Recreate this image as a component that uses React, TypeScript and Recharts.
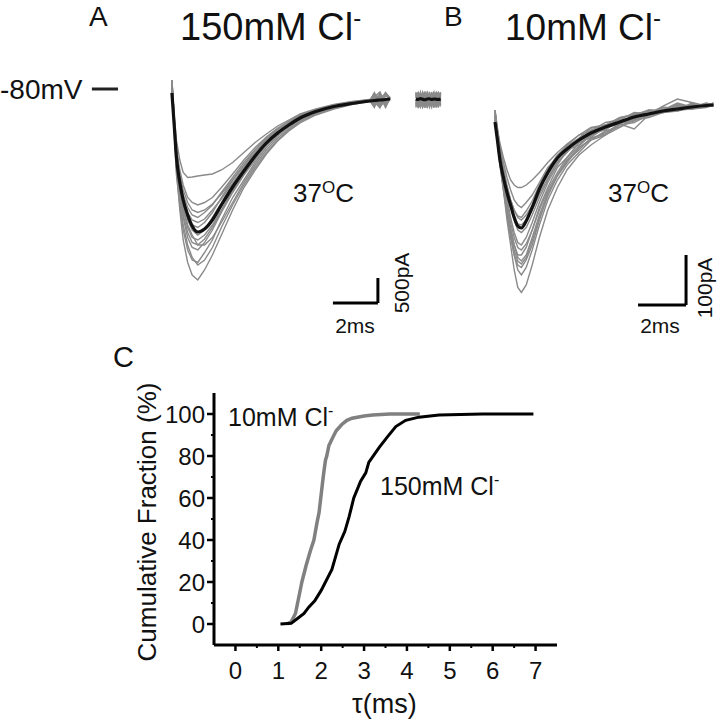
import React from 'react';
import { LineChart, Line, XAxis, YAxis, ReferenceLine } from 'recharts';

const FONT = '"Liberation Sans", Arial, Helvetica, sans-serif';

// ---- panel A: 150 mM Cl-, time (ms) vs current (pA)
const timeA = [0, 0.1, 0.2, 0.35, 0.5, 0.7, 0.9, 1.15, 1.45, 1.8, 2.2, 2.7, 3.2, 3.7, 4.2, 4.7, 5.2, 5.7, 6.4, 7.2, 8.0, 8.8, 9.0, 9.25, 9.5, 9.7];
const meanA = [40, -600, -1250, -1750, -2100, -2400, -2620, -2740, -2680, -2500, -2200, -1840, -1520, -1220, -960, -760, -600, -460, -330, -230, -170, -120, -110, -100, -90, -80];
const tracesA = [
  [300, -500, -1500, -2300, -2900, -3350, -3600, -3700, -3500, -3200, -2800, -2300, -1850, -1500, -1180, -920, -720, -560, -400, -280, -190, -130, 10, -220, 40, -90],
  [200, -700, -1600, -2200, -2700, -3100, -3300, -3350, -3150, -2900, -2500, -2050, -1700, -1350, -1050, -820, -650, -500, -350, -240, -170, -110, -250, 20, -230, -70],
  [150, -600, -1400, -2000, -2450, -2850, -3050, -3100, -2950, -2700, -2350, -1950, -1600, -1300, -1000, -800, -620, -480, -340, -230, -160, -120, -20, -160, 0, -60],
  [250, -550, -1300, -1900, -2300, -2650, -2850, -2900, -2800, -2600, -2300, -1900, -1550, -1250, -980, -760, -600, -450, -320, -220, -150, -100, -190, -30, -200, -80],
  [100, -650, -1300, -1800, -2150, -2450, -2600, -2650, -2550, -2350, -2050, -1700, -1400, -1100, -880, -700, -560, -420, -300, -200, -140, -110, 30, -120, 50, -60],
  [200, -500, -1150, -1650, -2000, -2250, -2400, -2450, -2350, -2200, -1950, -1650, -1350, -1100, -850, -680, -540, -420, -300, -200, -150, -90, -150, -240, -110, -70],
  [300, -450, -1050, -1500, -1800, -2050, -2150, -2200, -2150, -2050, -1850, -1580, -1300, -1050, -840, -660, -520, -400, -290, -210, -140, -100, -40, 60, -170, -60],
  [250, -400, -900, -1300, -1550, -1650, -1640, -1620, -1600, -1580, -1500, -1350, -1150, -950, -780, -620, -500, -380, -280, -190, -130, -90, -200, -80, 30, -50],
  [150, -600, -1350, -1850, -2250, -2600, -2800, -3000, -3000, -2850, -2550, -2150, -1750, -1400, -1100, -860, -680, -520, -370, -250, -170, -120, 50, -190, -20, -70],
  [200, -550, -1250, -1750, -2150, -2500, -2700, -2800, -2700, -2450, -2150, -1800, -1500, -1200, -950, -750, -590, -450, -320, -230, -150, -110, -230, -10, -250, -60],
  [250, -600, -1450, -2100, -2600, -3000, -3250, -3400, -3300, -3050, -2650, -2200, -1800, -1450, -1150, -900, -700, -540, -380, -260, -180, -120, -60, -230, 10, -80],
  [150, -500, -1200, -1700, -2050, -2350, -2500, -2550, -2480, -2300, -2080, -1760, -1460, -1180, -920, -740, -580, -440, -310, -210, -140, -100, -170, 40, -140, -60],
  [200, -600, -1350, -1950, -2400, -2750, -2950, -3000, -2880, -2650, -2320, -1920, -1580, -1260, -1000, -780, -610, -470, -330, -240, -160, -110, 20, -60, -210, -70],
  [300, -450, -1100, -1600, -1900, -2150, -2300, -2350, -2300, -2180, -1980, -1700, -1420, -1150, -900, -720, -570, -430, -310, -220, -150, -100, -120, -260, 20, -60],
];
// piece of baseline after the break
const tailTimeA = [10.85, 10.95, 11.05, 11.15, 11.25, 11.35, 11.45, 11.55, 11.65, 11.75, 11.85, 11.95];
const tailMeanA = [-80, -90, -70, -85, -95, -80, -75, -90, -80, -85, -90, -80];
const tailTracesA = [
  [60, -240, 40, -200, 20, -260, 0, -150, 50, -230, 30, -90],
  [-250, 30, -220, 50, -240, 10, -200, 60, -180, -20, -250, 40],
  [0, -150, -10, -180, 40, -140, -60, -230, -30, 50, -160, -40],
  [-180, -20, -230, 0, -190, -40, -210, 30, -250, -70, 10, -200],
  [20, -120, 60, -100, -20, -160, 30, -60, -200, -120, 60, -150],
  [-100, -260, -60, -230, -120, 20, -150, -250, 20, -190, -80, 0],
  [-200, 60, -140, 30, -260, -20, -100, -10, -120, 40, -210, -120],
  [40, -60, -190, 60, -40, -220, 50, -180, -100, -250, -30, 60],
  [-140, -200, 20, -160, 70, -100, -240, -40, 60, -150, -120, -230],
  [-60, 50, -100, -250, -150, 40, -120, 20, -220, -10, 50, -100],
  [-230, -100, 30, -60, -210, -180, 60, -120, -60, 20, -190, -10],
  [30, -180, -250, -130, 10, -70, -190, 40, -140, -200, -60, -170],
  [-120, 10, -60, 40, -90, -230, -30, -210, 30, -90, -240, 20],
  [-30, -210, -150, -220, -60, 50, -160, -90, -250, 60, -110, -60],
];
const holdA = { t0: -3.56, t1: -2.4, level: 120 };
const scaleA = { t: 7.16, i: -4160, dt: 2, di: 500 };

// ---- panel B: 10 mM Cl-
const timeB = [0, 0.1, 0.2, 0.35, 0.5, 0.65, 0.8, 0.95, 1.1, 1.3, 1.55, 1.85, 2.2, 2.6, 3.0, 3.5, 4.0, 4.6, 5.2, 5.8, 6.4, 7.0, 7.6, 8.2, 8.8, 9.1];
const meanB = [-34, -70, -108, -145, -175, -200, -225, -242, -246, -232, -205, -168, -135, -106, -88, -70, -56, -44, -34, -24, -18, -12, -8, -4, -1, 0];
const tracesB = [
  [-20, -60, -110, -170, -230, -280, -330, -365, -375, -360, -320, -265, -210, -165, -130, -100, -80, -60, -45, -30, -25, -15, -10, -8, -5, 0],
  [-10, -50, -100, -160, -210, -260, -300, -330, -340, -325, -290, -240, -190, -150, -120, -95, -70, -60, -40, -35, -20, -15, -12, -5, 0, 2],
  [-30, -70, -120, -170, -215, -250, -280, -300, -300, -285, -250, -205, -165, -125, -105, -75, -65, -45, -38, -48, -20, -8, -12, 0, -4, 5],
  [-15, -55, -95, -140, -185, -225, -255, -275, -280, -265, -235, -195, -155, -120, -90, -80, -55, -50, -30, -28, -12, -15, 0, -6, 2, -2],
  [-25, -60, -100, -140, -175, -205, -230, -250, -255, -245, -220, -185, -150, -115, -95, -70, -62, -40, -35, -20, -22, -5, -10, 4, -3, 0],
  [-20, -50, -85, -125, -160, -190, -210, -225, -230, -220, -200, -170, -140, -110, -85, -72, -50, -45, -28, -30, -10, -12, 2, -5, 4, 0],
  [-10, -45, -80, -115, -145, -170, -190, -200, -205, -195, -180, -155, -125, -105, -80, -60, -52, -35, -30, -15, -18, -2, 12, 5, -2, 3],
  [-20, -50, -75, -105, -130, -150, -160, -165, -165, -160, -150, -135, -115, -95, -78, -60, -45, -40, -25, -20, -10, -12, 0, -4, 3, 0],
  [-25, -65, -115, -165, -220, -265, -300, -320, -325, -310, -280, -230, -180, -140, -110, -85, -68, -55, -38, -25, -20, -10, -8, -2, -4, 2],
  [-15, -55, -100, -150, -195, -235, -265, -285, -290, -278, -250, -210, -170, -135, -105, -82, -60, -48, -32, -26, -14, -10, -4, -6, 0, -1],
  [-20, -60, -105, -160, -205, -245, -280, -305, -312, -300, -265, -220, -175, -140, -112, -90, -66, -58, -36, -32, -16, -14, -2, -8, 2, -3],
  [-30, -65, -100, -135, -165, -190, -210, -222, -225, -212, -192, -160, -128, -100, -82, -66, -46, -44, -26, -18, -16, -4, -8, 2, -2, 1],
  [-10, -55, -110, -165, -215, -258, -290, -312, -318, -305, -272, -226, -182, -142, -115, -86, -70, -52, -44, -26, -22, -12, -6, -8, -2, 0],
  [-25, -60, -95, -135, -170, -200, -222, -238, -240, -230, -210, -178, -146, -114, -92, -74, -56, -40, -36, -18, -14, -10, 4, -4, 0, 2],
];
const scaleB = { t: 5.96, i: -400, dt: 2, di: 100 };

// ---- panel C: cumulative distributions of tau (ms)
const tau10 = [1.2, 1.3, 1.4, 1.5, 1.55, 1.65, 1.75, 1.83, 1.9, 1.95, 1.99, 2.03, 2.06, 2.1, 2.13, 2.18, 2.25, 2.35, 2.48, 2.6, 2.72, 3.0, 3.2, 3.6, 4.3];
const frac10 = [0, 1, 5, 15, 20, 28, 35, 40, 48, 53, 60, 67, 72, 78, 80, 85, 88, 92, 95, 97, 98, 99, 99.5, 100, 100];
const tau150 = [1.05, 1.3, 1.47, 1.6, 1.71, 1.85, 2.0, 2.25, 2.42, 2.55, 2.65, 2.76, 2.92, 3.04, 3.11, 3.35, 3.54, 3.74, 3.97, 4.28, 4.75, 5.76, 6.95];
const frac150 = [0, 0.3, 3, 5, 8, 11, 16, 26, 38, 44, 51, 60, 68, 72, 77, 84, 89, 94, 97, 98.5, 99.5, 100, 100];
const yTicksC = [0, 10, 20, 30, 40, 50, 60, 70, 80, 90, 100];
const xTicksC = [0, 0.5, 1, 1.5, 2, 2.5, 3, 3.5, 4, 4.5, 5, 5.5, 6, 6.5, 7];

const buildRows = (time: number[], mean: number[], traces: number[][]) =>
  time.map((t, i) => {
    const row: Record<string, number | null> = { t, mean: mean[i] };
    traces.forEach((tr, k) => (row['g' + k] = tr[i]));
    return row;
  });

const gapRow = (t: number, n: number) => {
  const row: Record<string, number | null> = { t, mean: null };
  for (let k = 0; k < n; k++) row['g' + k] = null;
  return row;
};

const rowsA = [
  ...buildRows(timeA, meanA, tracesA),
  gapRow(10.3, tracesA.length),
  ...buildRows(tailTimeA, tailMeanA, tailTracesA),
];
const rowsB = buildRows(timeB, meanB, tracesB);
const data10 = tau10.map((tau, i) => ({ tau, frac: frac10[i] }));
const data150 = tau150.map((tau, i) => ({ tau, frac: frac150[i] }));

const GRAY = '#8a8a8a';

function Txt({ x, base, size, children, anchor = 'start', lh = 1 }: any) {
  const tx = anchor === 'middle' ? 'translateX(-50%)' : anchor === 'end' ? 'translateX(-100%)' : '';
  return (
    <div
      style={{
        position: 'absolute',
        left: x,
        top: base - (lh / 2 + 0.3465) * size,
        fontSize: size,
        lineHeight: lh,
        whiteSpace: 'nowrap',
        transform: tx,
      }}
    >
      {children}
    </div>
  );
}

function VTxt({ cx, cy, size, children }: any) {
  return (
    <div
      style={{
        position: 'absolute',
        left: cx,
        top: cy,
        fontSize: size,
        lineHeight: 1,
        whiteSpace: 'nowrap',
        transform: 'translate(-50%, -50%) rotate(-90deg)',
      }}
    >
      {children}
    </div>
  );
}

const Sup = ({ children, size, lift }: any) => (
  <span style={{ fontSize: size, position: 'relative', top: -lift }}>{children}</span>
);

function TraceChart({ rows, n, left, top, width, height, xDomain, yDomain, children }: any) {
  return (
    <div style={{ position: 'absolute', left, top }}>
      <LineChart width={width} height={height} data={rows} margin={{ top: 0, right: 0, bottom: 0, left: 0 }}>
        <XAxis type="number" dataKey="t" domain={xDomain} hide allowDataOverflow />
        <YAxis type="number" domain={yDomain} hide allowDataOverflow />
        {Array.from({ length: n }, (_, k) => (
          <Line
            key={k}
            dataKey={'g' + k}
            type="linear"
            stroke={GRAY}
            strokeWidth={1.4}
            dot={false}
            isAnimationActive={false}
          />
        ))}
        <Line dataKey="mean" type="monotone" stroke="#111" strokeWidth={3.2} dot={false} isAnimationActive={false} />
        {children}
      </LineChart>
    </div>
  );
}

const YTick = ({ x, y, payload }: any) => {
  const v = payload.value;
  const major = v % 20 === 0;
  return (
    <g>
      <line x1={x - (major ? 7 : 3)} x2={x} y1={y} y2={y} stroke="#000" strokeWidth={major ? 2.5 : 2} />
      {major && (
        <text x={x - 9} y={y} textAnchor="end" dominantBaseline="central" fontSize={24} fontFamily={FONT} fill="#111">
          {v}
        </text>
      )}
    </g>
  );
};

const XTick = ({ x, y, payload }: any) => {
  const v = payload.value;
  const major = Number.isInteger(v);
  return (
    <g>
      <line x1={x} x2={x} y1={y} y2={y + (major ? 6 : 3)} stroke="#000" strokeWidth={major ? 2.5 : 2} />
      {major && (
        <text x={x} y={y + 25} textAnchor="middle" dominantBaseline="central" fontSize={24} fontFamily={FONT} fill="#111">
          {v}
        </text>
      )}
    </g>
  );
};

export default function App() {
  const bar = { stroke: '#000', strokeWidth: 3 };
  return (
    <div
      style={{
        position: 'absolute',
        left: 0,
        top: 0,
        width: 718,
        height: 720,
        overflow: 'hidden',
        background: '#fff',
        fontFamily: FONT,
        color: '#111',
      }}
    >
      {/* panel A */}
      <TraceChart rows={rowsA} n={tracesA.length} left={82} top={60} width={371} height={260} xDomain={[-4, 12.5]} yDomain={[-4500, 700]}>
        <ReferenceLine segment={[{ x: holdA.t0, y: holdA.level }, { x: holdA.t1, y: holdA.level }]} stroke="#222" strokeWidth={3} />
        <ReferenceLine segment={[{ x: scaleA.t, y: scaleA.i }, { x: scaleA.t + scaleA.dt, y: scaleA.i }]} {...bar} />
        <ReferenceLine segment={[{ x: scaleA.t + scaleA.dt, y: scaleA.i }, { x: scaleA.t + scaleA.dt, y: scaleA.i + scaleA.di }]} {...bar} />
      </TraceChart>

      {/* panel B */}
      <TraceChart rows={rowsB} n={tracesB.length} left={471} top={60} width={252} height={260} xDomain={[-1, 9.5]} yDomain={[-430, 90]}>
        <ReferenceLine segment={[{ x: scaleB.t, y: scaleB.i }, { x: scaleB.t + scaleB.dt, y: scaleB.i }]} {...bar} />
        <ReferenceLine segment={[{ x: scaleB.t + scaleB.dt, y: scaleB.i }, { x: scaleB.t + scaleB.dt, y: scaleB.i + scaleB.di }]} {...bar} />
      </TraceChart>

      {/* panel C */}
      <div style={{ position: 'absolute', left: 100, top: 380 }}>
        <LineChart width={470} height={340} margin={{ top: 13, right: 13, bottom: 0, left: 0 }}>
          <XAxis
            type="number"
            dataKey="tau"
            domain={[-0.5, 7.5]}
            ticks={xTicksC}
            interval={0}
            height={75}
            allowDataOverflow
            axisLine={{ stroke: '#000', strokeWidth: 3 }}
            tickLine={false}
            tickSize={0}
            tickMargin={0}
            tick={<XTick />}
          />
          <YAxis
            type="number"
            domain={[-10, 110]}
            ticks={yTicksC}
            interval={0}
            width={114}
            allowDataOverflow
            axisLine={{ stroke: '#000', strokeWidth: 3 }}
            tickLine={false}
            tickSize={0}
            tickMargin={0}
            tick={<YTick />}
          />
          <Line data={data10} dataKey="frac" type="linear" stroke="#808080" strokeWidth={3.5} dot={false} isAnimationActive={false} />
          <Line data={data150} dataKey="frac" type="linear" stroke="#000" strokeWidth={3} dot={false} isAnimationActive={false} />
        </LineChart>
      </div>

      {/* texts */}
      <Txt x={89} base={27} size={28}>A</Txt>
      <Txt x={180} base={40} size={38}>
        150mM Cl<Sup size={24} lift={14}>-</Sup>
      </Txt>
      <Txt x={444} base={27} size={28}>B</Txt>
      <Txt x={505} base={40} size={37}>
        10mM Cl<Sup size={24} lift={14}>-</Sup>
      </Txt>
      <Txt x={0} base={100} size={28}>-80mV</Txt>
      <Txt x={293} base={202} size={26}>
        37<Sup size={17} lift={9}>O</Sup>C
      </Txt>
      <Txt x={608} base={202} size={26}>
        37<Sup size={17} lift={9}>O</Sup>C
      </Txt>
      <Txt x={355} base={333} size={21} anchor="middle">2ms</Txt>
      <VTxt cx={401} cy={283} size={21}>500pA</VTxt>
      <Txt x={660} base={333} size={21} anchor="middle">2ms</Txt>
      <VTxt cx={704} cy={288} size={21}>100pA</VTxt>

      <Txt x={113} base={368} size={29}>C</Txt>
      <VTxt cx={147} cy={522} size={26}>Cumulative Fraction (%)</VTxt>
      <Txt x={228} base={426} size={25}>
        10mM Cl<Sup size={16} lift={10}>-</Sup>
      </Txt>
      <Txt x={380} base={495} size={25}>
        150mM Cl<Sup size={16} lift={10}>-</Sup>
      </Txt>
      <Txt x={352} base={714} size={27}>τ(ms)</Txt>
    </div>
  );
}
